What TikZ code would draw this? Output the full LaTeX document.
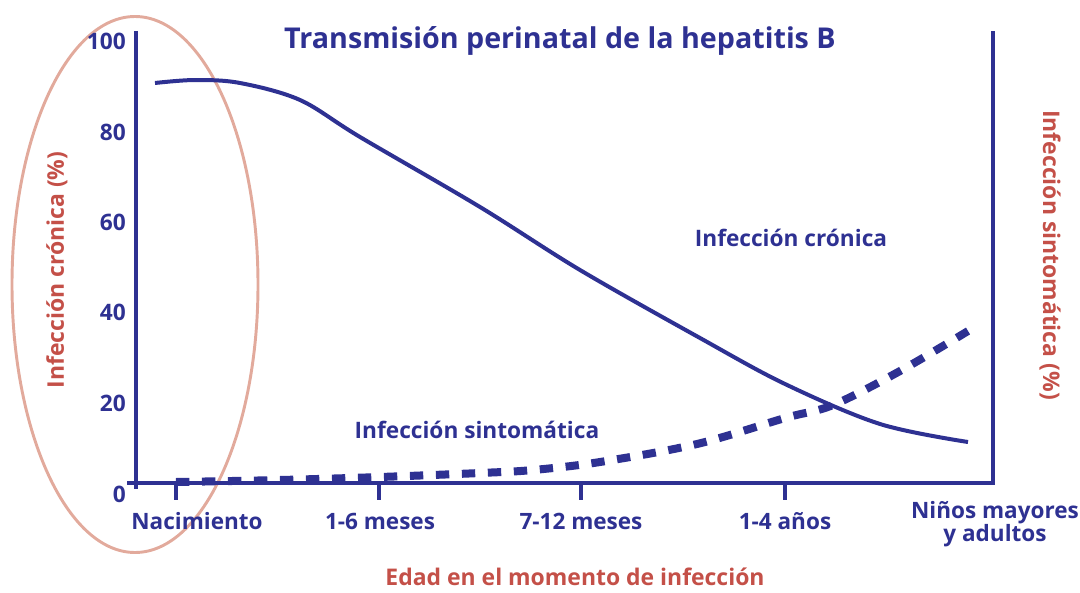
\documentclass[tikz,border=0pt]{standalone}
\usepackage{fontspec}
\setmainfont{Open Sans}
\definecolor{hblue}{RGB}{46,49,146}
\definecolor{hred}{RGB}{196,80,72}
\definecolor{hpink}{RGB}{226,170,156}
\begin{document}
\begin{tikzpicture}[x=0.75pt,y=-0.75pt,
  axis/.style={draw=hblue,line width=3.2pt},
  curve/.style={draw=hblue,line width=3pt},
  dcurve/.style={draw=hblue,line width=6pt,dash pattern=on 10pt off 9.5pt},
  ticklab/.style={text=hblue,font=\bfseries\fontsize{16.9}{20}\selectfont,inner sep=0pt},
  ylab/.style={text=hblue,font=\bfseries\fontsize{17}{20}\selectfont,inner sep=0pt,anchor=east},
  curvelab/.style={text=hblue,font=\bfseries\fontsize{17}{20}\selectfont,inner sep=0pt},
  axlab/.style={text=hred,font=\bfseries\fontsize{17.2}{20}\selectfont,inner sep=0pt}]
\useasboundingbox (0,0) rectangle (1080,592);
% ellipse
\draw[hpink,line width=2.2pt] (135,284.5) ellipse [x radius=123, y radius=268];
% axes
\coordinate (ytop) at (136,31);
\coordinate (ybot) at (136,489);
\coordinate (xl) at (127,483);
\coordinate (xr) at (993,483);
\coordinate (rtop) at (993,31);
\draw[axis] (ytop) -- (ybot);
\draw[axis] (xl) -- (xr) -- (rtop);
% ticks
\foreach \n/\x in {t1/176,t2/379,t3/581,t4/785}{
  \coordinate (\n a) at (\x,483);
  \coordinate (\n b) at (\x,500);
  \draw[axis] (\n a) -- (\n b);
}
% y labels
\node[ylab] (y100) at (126,41) {100};
\node[ylab] (y80) at (126,132) {80};
\node[ylab] (y60) at (126,222) {60};
\node[ylab] (y40) at (126,312) {40};
\node[ylab] (y20) at (126,403) {20};
\node[ylab] (y0) at (126,494) {0};
% x labels
\node[ticklab] (l1) at (197,521) {Nacimiento};
\node[ticklab] (l2) at (380,521) {1-6 meses};
\node[ticklab] (l3) at (581,521) {7-12 meses};
\node[ticklab] (l4) at (785,521) {1-4 años};
\node[ticklab,align=center] (l5) at (995,524) {Niños mayores\\[-3pt]y adultos};
% title
\node[text=hblue,font=\bfseries\fontsize{21.5}{25}\selectfont,inner sep=0pt] (title) at (560,41) {Transmisión perinatal de la hepatitis B};
% axis labels
\node[axlab] (xlab) at (575,577) {Edad en el momento de infección};
\node[axlab,rotate=90] (ylabl) at (57,270) {Infección crónica (\%)};
\node[axlab,rotate=-90] (ylabr) at (1050,255) {Infección sintomática (\%)};
% curve labels
\node[curvelab] (cron) at (791,238) {Infección crónica};
\node[curvelab] (sint) at (477,430) {Infección sintomática};
% curves
\draw[curve] plot[smooth,tension=0.55] coordinates {(155,83) (195,80) (240,83) (300,100) (360,137) (480,207) (580,270) (700,338) (785,384) (880,424) (968,442)};
\draw[dcurve] plot[smooth,tension=0.55] coordinates {(176,482) (280,480) (380,477) (480,473) (533,470) (600,462) (697,444) (785,418) (833,405) (900,371) (968,331)};
\end{tikzpicture}
\end{document}
